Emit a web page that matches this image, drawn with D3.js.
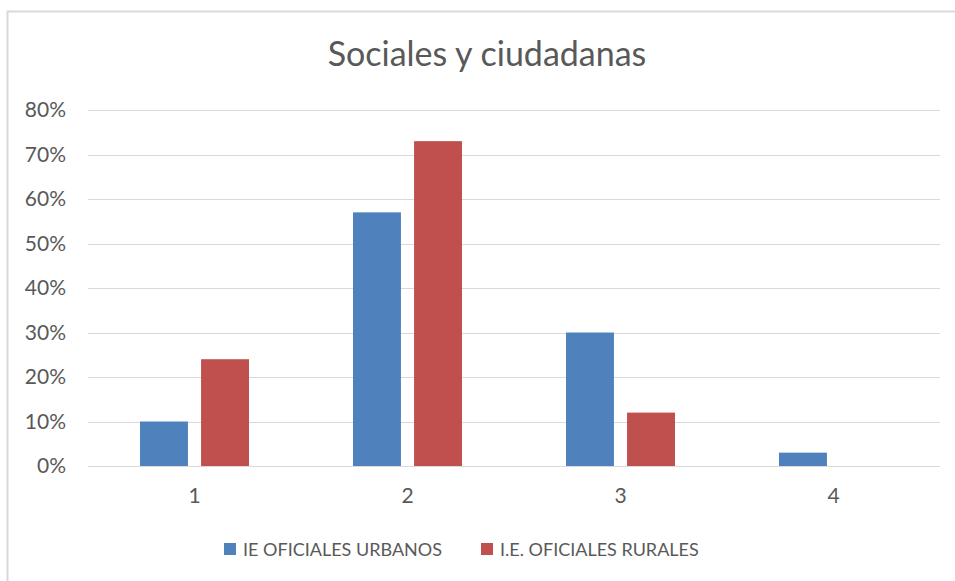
<!DOCTYPE html>
<html>
<head>
<meta charset="utf-8">
<script src="https://cdn.jsdelivr.net/npm/d3@7"></script>
<style>
  body { margin: 0; background: #fff; }
  text { font-family: Lato, "Open Sans", sans-serif; fill: #595959; }
</style>
</head>
<body>
<div id="chart"></div>
<script>
// chart data
var categories = ["1", "2", "3", "4"];
var seriesNames = ["IE OFICIALES URBANOS", "I.E. OFICIALES RURALES"];
var urbanos = [0.10, 0.57, 0.30, 0.03];
var rurales = [0.24, 0.73, 0.12, 0.00];
var yTicks = [0, 0.1, 0.2, 0.3, 0.4, 0.5, 0.6, 0.7, 0.8];
var colors = ["#4F81BD", "#C0504D"];

var W = 955, H = 581;
var margin = {top: 110, right: 15, bottom: 115, left: 88},
    width = 940 - margin.left,
    height = 466 - margin.top;

var svg = d3.select("#chart")
  .append("svg")
    .attr("width", W)
    .attr("height", H);

// outer border of the chart area (runs off the right / bottom edge)
svg.append("rect")
  .attr("x", 7.5).attr("y", 11.5)
  .attr("width", 960).attr("height", 600)
  .attr("fill", "none")
  .attr("stroke", "#D9D9D9")
  .attr("stroke-width", 2);

// title
svg.append("text")
  .attr("x", 487)
  .attr("y", 66)
  .attr("text-anchor", "middle")
  .style("font-size", "34px")
  .text("Sociales y ciudadanas");

var g = svg.append("g")
  .attr("transform", "translate(" + margin.left + "," + margin.top + ")");

var y = d3.scaleLinear()
  .domain([0, 0.8])
  .range([height, 0]);

var x0 = d3.scaleBand()
  .domain(categories)
  .range([0, width]);

var x1 = d3.scaleBand()
  .domain([0, 1])
  .range([52, x0.bandwidth() - 52])
  .paddingInner(0.215);

// gridlines
g.append("g")
  .selectAll("line")
  .data(yTicks)
  .enter()
  .append("line")
    .attr("x1", 0)
    .attr("x2", width)
    .attr("y1", function(d) { return Math.round(y(d)) + 0.5; })
    .attr("y2", function(d) { return Math.round(y(d)) + 0.5; })
    .attr("stroke", "#D9D9D9")
    .attr("stroke-width", 1.2);

// y axis labels
var yAxis = g.append("g")
  .call(d3.axisLeft(y).tickValues(yTicks).tickFormat(d3.format(".0%")).tickSize(0).tickPadding(22));
yAxis.select(".domain").remove();
yAxis.selectAll("text")
  .style("font-size", "21px")
  .style("fill", "#595959")
  .style("font-family", "Lato, 'Open Sans', sans-serif");

// x axis labels
var xAxis = g.append("g")
  .attr("transform", "translate(0," + height + ")")
  .call(d3.axisBottom(x0).tickSize(0).tickPadding(22));
xAxis.select(".domain").remove();
xAxis.selectAll("text")
  .style("font-size", "21px")
  .style("fill", "#595959")
  .style("font-family", "Lato, 'Open Sans', sans-serif");

// bars
var rows = categories.map(function(c, i) {
  return {cat: c, values: [urbanos[i], rurales[i]]};
});

var groups = g.selectAll("g.cat")
  .data(rows)
  .enter().append("g")
    .attr("class", "cat")
    .attr("transform", function(d) { return "translate(" + x0(d.cat) + ",0)"; });

groups.selectAll("rect")
  .data(function(d) { return d.values.map(function(v, k) { return {k: k, v: v}; }); })
  .enter().append("rect")
    .attr("x", function(d) { return x1(d.k); })
    .attr("width", x1.bandwidth())
    .attr("y", function(d) { return y(d.v); })
    .attr("height", function(d) { return height - y(d.v); })
    .attr("fill", function(d) { return colors[d.k]; });

// legend
var legendX = [224, 481];
var legend = svg.selectAll("g.legend")
  .data(seriesNames)
  .enter().append("g")
    .attr("class", "legend")
    .attr("transform", function(d, i) { return "translate(" + legendX[i] + ",543)"; });

legend.append("rect")
  .attr("width", 12).attr("height", 12)
  .attr("fill", function(d, i) { return colors[i]; });

legend.append("text")
  .attr("x", 19)
  .attr("y", 13)
  .style("font-size", "18px")
  .text(function(d) { return d; });
</script>
</body>
</html>
